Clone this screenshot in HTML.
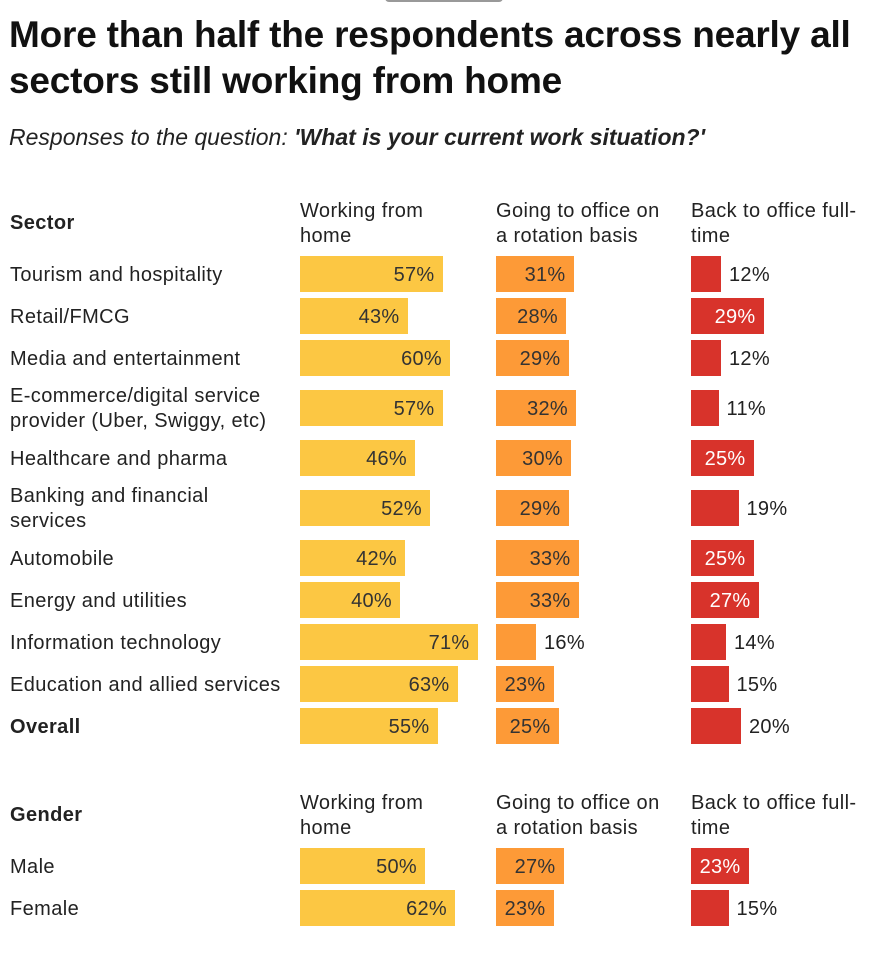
<!DOCTYPE html>
<html><head><meta charset="utf-8"><style>
body{margin:0;background:#fff;font-family:"Liberation Sans",sans-serif;color:#222;}
#wrap{position:relative;width:870px;height:961px;overflow:hidden}
h1{position:absolute;left:9px;top:12px;margin:0;font-size:37px;line-height:46px;font-weight:bold;color:#111;letter-spacing:-0.2px;white-space:nowrap}
.sub{position:absolute;left:9px;top:124px;font-size:23px;font-style:italic;color:#222;white-space:nowrap}
.t{position:absolute;font-size:20px;color:#222;line-height:25px;letter-spacing:0.4px;white-space:nowrap}
.b{font-weight:bold}
.bar{position:absolute;height:36px}
.v{position:absolute;font-size:20px;line-height:38px;letter-spacing:0.3px}
</style></head><body>
<div id="wrap">
<div style="position:absolute;left:385px;top:-6px;width:118px;height:8px;border-radius:4px;background:#999"></div>
<h1>More than half the respondents across nearly all<br>sectors still working from home</h1>
<div class="sub">Responses to the question: <b>'What is your current work situation?'</b></div>
<div id="rows"></div>
</div>
<script>
const sectors=["Tourism and hospitality","Retail/FMCG","Media and entertainment","E-commerce/digital service<br>provider (Uber, Swiggy, etc)","Healthcare and pharma","Banking and financial<br>services","Automobile","Energy and utilities","Information technology","Education and allied services","Overall"];
const wfh=[57,43,60,57,46,52,42,40,71,63,55];
const rotation=[31,28,29,32,30,29,33,33,16,23,25];
const fulltime=[12,29,12,11,25,19,25,27,14,15,20];
const genders=["Male","Female"];
const gWfh=[50,62];
const gRot=[27,23];
const gFull=[23,15];
const W=document.getElementById('wrap');
const colX=[300,496,691],colors=["#fcc743","#fd9a37","#d8332b"],txt=["#333","#333","#fff"];
const scale=v=>v*2.5;
function header(y,name){
  const h=document.createElement('div');h.className='t b';h.style.left='10px';h.style.top=(y+13)+'px';h.textContent=name;
  
  
  W.appendChild(h);
  ["Working from<br>home","Going to office on<br>a rotation basis","Back to office full-<br>time"].forEach((s,i)=>{
    const d=document.createElement('div');d.className='t';d.style.left=colX[i]+'px';d.style.top=(y+1)+'px';d.innerHTML=s;
    
    
    W.appendChild(d);});
}
function rows(labels,series,startCenter,boldLast){
  let c=startCenter,prevH=0;
  labels.forEach((lab,i)=>{
    const two=lab.includes('<br>');const hh=two?29:21;
    if(i>0)c+=prevH+hh;prevH=hh;
    const l=document.createElement('div');l.className='t'+(boldLast&&i==labels.length-1?' b':'');
    l.style.left='10px';l.style.top=(c-(two?24:11.5))+'px';l.innerHTML=lab;
    
    
    W.appendChild(l);
    series.forEach((s,k)=>{
      const v=s[i],w=scale(v);
      const b=document.createElement('div');b.className='bar';
      b.style.left=colX[k]+'px';b.style.top=(c-18)+'px';b.style.width=w+'px';b.style.background=colors[k];
      
      
      W.appendChild(b);
      const t=document.createElement('div');t.className='v';t.textContent=v+'%';t.style.top=(c-18)+'px';
      if(v>20){t.style.right=(870-colX[k]-w+8)+'px';t.style.color=txt[k];}
      else{t.style.left=(colX[k]+w+8)+'px';t.style.color='#222';}
      
      
      W.appendChild(t);
    });
  });
}
header(198,"Sector");
rows(sectors,[wfh,rotation,fulltime],274,true);
header(790,"Gender");
rows(genders,[gWfh,gRot,gFull],866,false);
</script>
</body></html>
